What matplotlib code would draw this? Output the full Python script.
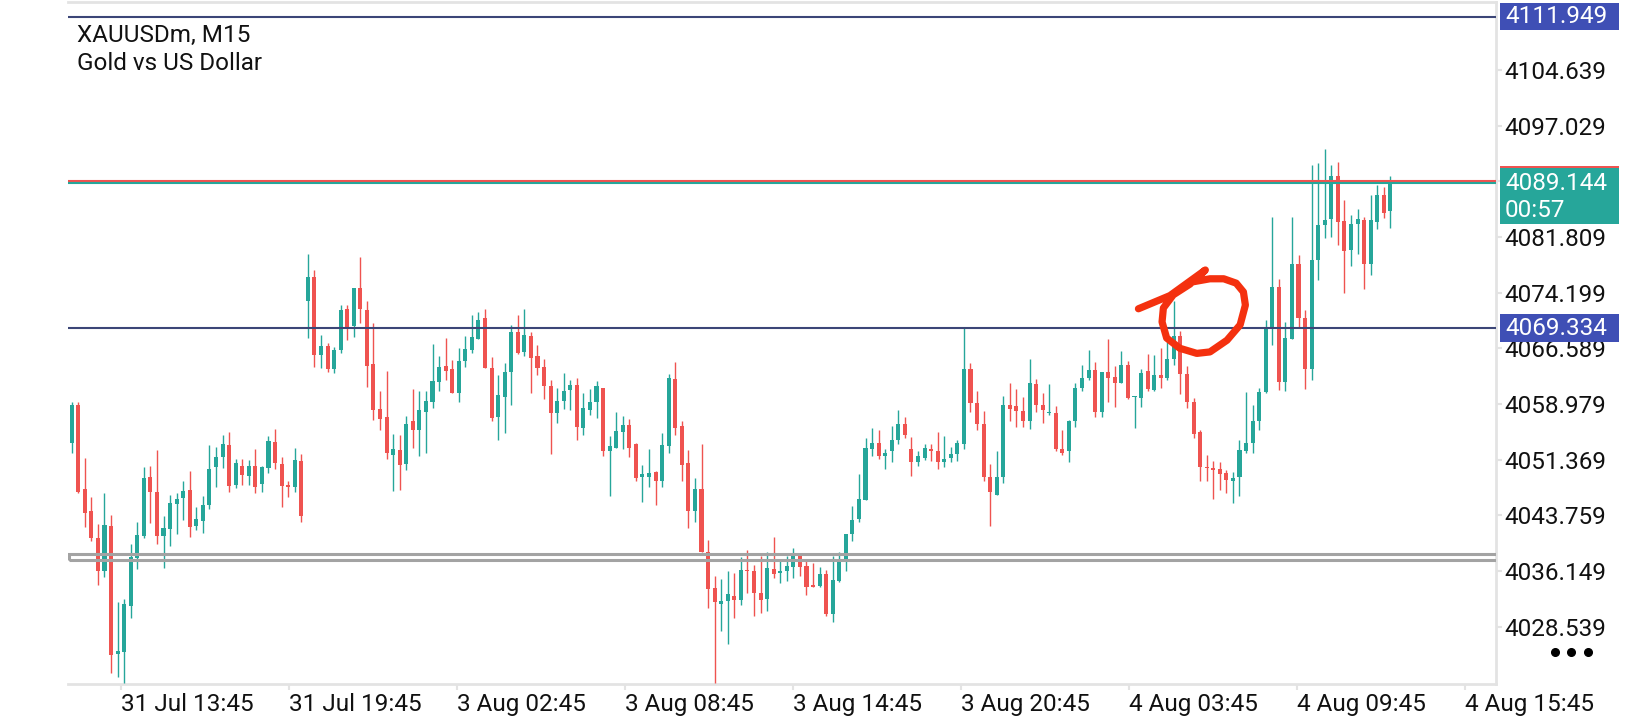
import matplotlib
matplotlib.use("Agg")
import matplotlib.pyplot as plt
from matplotlib.patches import Rectangle
from matplotlib.lines import Line2D
import numpy as np

plt.rcParams['font.family'] = ['Roboto', 'DejaVu Sans']

# chart header
symbol = "XAUUSDm, M15"
description = "Gold vs US Dollar"

# M15 candles (bar 0 = 31 Jul 12:00)
opens = [4053.6, 4058.8, 4047.3, 4044.4, 4040.6, 4036.1, 4042.3, 4024.8, 4025.1, 4031.4,
         4037.9, 4041.0, 4049.0, 4046.9, 4041.0, 4041.9, 4045.3, 4046.1, 4047.2, 4042.3,
         4043.0, 4045.2, 4050.3, 4051.7, 4053.4, 4047.9, 4050.5, 4049.1, 4050.5, 4048.0,
         4050.2, 4053.8, 4050.8, 4047.8, 4047.7, 4051.2, 4073.0, 4076.4, 4065.7, 4066.9,
         4063.8, 4066.3, 4072.0, 4069.6, 4074.8, 4071.8, 4064.5, 4058.3, 4057.2, 4052.0,
         4052.7, 4050.8, 4056.7, 4055.4, 4057.9, 4059.2, 4062.0, 4064.2, 4063.8, 4060.5,
         4064.9, 4066.4, 4067.9, 4070.7, 4063.9, 4057.2, 4060.0, 4063.4, 4068.8, 4066.1,
         4068.3, 4065.5, 4064.1, 4061.4, 4057.8, 4059.4, 4060.9, 4061.6, 4055.7, 4058.2,
         4059.3, 4061.1, 4052.5, 4053.0, 4055.2, 4056.1, 4053.5, 4049.0, 4049.0, 4049.7,
         4048.4, 4053.3, 4062.4, 4056.0, 4050.9, 4044.4, 4047.3, 4038.8, 4033.8, 4031.6,
         4032.1, 4032.7, 4032.2, 4036.3, 4036.2, 4033.2, 4032.3, 4036.4, 4035.9, 4036.2,
         4036.7, 4038.2, 4036.8, 4034.2, 4034.1, 4035.7, 4030.3, 4034.8, 4037.8, 4041.2,
         4043.2, 4045.9, 4052.8, 4053.7, 4051.9, 4052.5, 4054.1, 4056.3, 4052.8, 4051.1,
         4051.6, 4052.8, 4052.6, 4051.1, 4051.6, 4052.1, 4053.5, 4063.8, 4059.1, 4056.3,
         4049.0, 4046.5, 4049.0, 4058.8, 4058.7, 4058.0, 4056.6, 4061.7, 4058.8, 4057.8,
         4057.8, 4052.8, 4052.5, 4056.6, 4061.2, 4062.6, 4063.6, 4057.9, 4063.3, 4062.7,
         4061.8, 4064.3, 4059.9, 4059.8, 4063.5, 4060.9, 4062.9, 4062.5, 4065.2, 4068.3,
         4063.1, 4059.3, 4055.1, 4050.4, 4050.2, 4050.1, 4049.6, 4048.5, 4049.0, 4052.5,
         4053.7, 4056.6, 4060.6, 4069.3, 4075.0, 4062.0, 4067.9, 4078.1, 4070.8, 4063.7,
         4078.6, 4083.5, 4084.3, 4090.2, 4084.0, 4080.0, 4083.6, 4084.1, 4078.1, 4083.9,
         4087.6, 4085.3]
highs = [4059.3, 4059.2, 4051.6, 4046.3, 4042.6, 4046.8, 4043.8, 4031.9, 4032.3, 4039.9,
         4042.8, 4050.3, 4050.5, 4052.7, 4043.6, 4046.6, 4046.8, 4048.4, 4049.8, 4044.9,
         4046.4, 4053.4, 4053.1, 4054.7, 4055.1, 4051.4, 4051.5, 4051.3, 4052.8, 4050.5,
         4054.6, 4055.6, 4051.7, 4048.4, 4052.9, 4052.1, 4079.5, 4077.3, 4068.4, 4067.3,
         4066.8, 4072.5, 4072.5, 4074.8, 4079.1, 4073.1, 4070.0, 4060.8, 4063.5, 4054.9,
         4054.7, 4057.3, 4061.0, 4060.8, 4060.8, 4067.2, 4065.5, 4068.0, 4065.0, 4066.6,
         4068.3, 4071.2, 4071.5, 4072.0, 4065.4, 4062.9, 4064.6, 4069.8, 4071.2, 4072.0,
         4068.8, 4067.0, 4065.2, 4062.3, 4061.1, 4063.2, 4062.3, 4062.5, 4060.5, 4061.0,
         4062.1, 4061.1, 4054.6, 4057.9, 4057.4, 4056.9, 4053.6, 4050.6, 4052.8, 4049.8,
         4055.0, 4063.1, 4064.7, 4056.6, 4052.7, 4048.9, 4053.5, 4040.4, 4035.4, 4035.0,
         4036.2, 4035.9, 4038.0, 4039.0, 4037.0, 4038.2, 4038.7, 4040.8, 4037.6, 4038.2,
         4039.3, 4038.6, 4037.5, 4037.3, 4036.7, 4036.3, 4038.2, 4038.8, 4041.2, 4045.1,
         4049.4, 4054.3, 4055.7, 4055.4, 4052.8, 4056.0, 4058.2, 4057.2, 4054.5, 4052.6,
         4053.5, 4053.5, 4055.1, 4054.6, 4053.1, 4054.1, 4069.4, 4064.6, 4060.8, 4058.0,
         4050.8, 4052.5, 4060.1, 4061.9, 4061.0, 4059.9, 4065.1, 4062.4, 4060.5, 4061.7,
         4058.7, 4055.4, 4056.8, 4061.8, 4064.3, 4066.4, 4064.7, 4063.3, 4067.9, 4064.2,
         4066.2, 4064.9, 4060.1, 4063.8, 4065.8, 4065.7, 4066.7, 4067.4, 4073.0, 4068.9,
         4064.2, 4059.8, 4055.4, 4052.0, 4051.2, 4051.0, 4050.0, 4049.7, 4054.1, 4060.6,
         4058.8, 4061.1, 4070.4, 4084.5, 4076.1, 4070.2, 4084.5, 4079.3, 4071.8, 4091.6,
         4091.9, 4093.8, 4091.7, 4092.0, 4086.9, 4084.8, 4085.7, 4084.5, 4087.6, 4088.9,
         4088.6, 4090.2]
lows = [4052.3, 4046.8, 4042.2, 4040.2, 4034.3, 4035.3, 4022.2, 4021.6, 4020.9, 4029.7,
        4036.4, 4040.6, 4042.7, 4039.9, 4036.5, 4039.5, 4041.2, 4043.1, 4040.8, 4041.8,
        4041.3, 4044.6, 4047.6, 4050.2, 4047.0, 4047.5, 4047.9, 4047.9, 4046.8, 4047.0,
        4049.5, 4050.1, 4044.9, 4046.3, 4047.0, 4042.8, 4068.0, 4064.1, 4063.9, 4063.4,
        4063.2, 4066.0, 4067.7, 4068.2, 4070.0, 4061.3, 4056.8, 4055.4, 4051.5, 4047.1,
        4047.2, 4049.9, 4052.9, 4051.9, 4052.3, 4058.4, 4060.8, 4062.3, 4060.5, 4059.2,
        4064.1, 4066.0, 4067.9, 4063.9, 4056.6, 4054.0, 4055.0, 4058.8, 4065.8, 4065.5,
        4060.5, 4062.9, 4059.6, 4052.1, 4056.4, 4058.3, 4058.2, 4054.1, 4054.7, 4057.5,
        4057.1, 4051.9, 4046.4, 4052.9, 4052.8, 4051.8, 4048.4, 4045.6, 4047.7, 4045.2,
        4047.7, 4052.3, 4054.7, 4048.5, 4042.0, 4042.9, 4038.7, 4031.1, 4020.9, 4027.9,
        4026.2, 4029.7, 4031.5, 4033.2, 4030.0, 4030.4, 4030.7, 4035.2, 4034.5, 4034.8,
        4035.2, 4035.5, 4032.9, 4033.9, 4034.0, 4030.0, 4029.2, 4034.6, 4036.2, 4040.2,
        4042.9, 4045.9, 4051.9, 4051.5, 4050.1, 4051.1, 4053.5, 4054.4, 4049.2, 4050.5,
        4051.3, 4051.2, 4050.1, 4050.4, 4051.0, 4051.2, 4052.8, 4057.9, 4055.4, 4048.4,
        4042.3, 4046.5, 4048.2, 4056.7, 4055.8, 4055.8, 4055.6, 4057.9, 4056.4, 4057.5,
        4052.5, 4052.0, 4051.0, 4055.9, 4060.7, 4062.3, 4057.2, 4057.2, 4059.3, 4058.6,
        4061.8, 4059.6, 4055.7, 4058.6, 4060.8, 4060.8, 4061.1, 4062.3, 4064.3, 4060.4,
        4058.4, 4054.3, 4048.4, 4048.5, 4046.0, 4047.2, 4046.8, 4045.4, 4046.4, 4052.3,
        4052.3, 4055.4, 4060.5, 4067.0, 4060.9, 4060.8, 4067.9, 4069.5, 4061.0, 4062.2,
        4075.9, 4081.7, 4081.8, 4080.7, 4074.2, 4077.9, 4079.5, 4074.7, 4076.6, 4082.9,
        4084.4, 4083.1]
closes = [4058.8, 4046.9, 4044.1, 4040.7, 4036.1, 4042.4, 4024.7, 4025.2, 4031.6, 4038.1,
          4041.1, 4048.9, 4046.9, 4041.0, 4042.0, 4045.4, 4046.0, 4047.1, 4042.2, 4043.2,
          4045.2, 4050.1, 4051.7, 4053.5, 4047.8, 4050.9, 4049.3, 4050.5, 4047.7, 4050.3,
          4053.9, 4050.9, 4047.8, 4047.7, 4051.3, 4043.6, 4076.4, 4065.7, 4066.9, 4063.7,
          4066.4, 4071.8, 4069.5, 4074.8, 4072.0, 4064.2, 4058.2, 4056.9, 4052.3, 4052.8,
          4050.6, 4056.3, 4055.4, 4058.2, 4059.4, 4062.1, 4064.1, 4063.5, 4060.5, 4064.9,
          4066.5, 4068.1, 4070.5, 4063.9, 4057.1, 4060.2, 4063.3, 4068.8, 4066.0, 4068.4,
          4065.3, 4063.9, 4061.5, 4057.7, 4059.4, 4060.8, 4061.6, 4055.9, 4058.4, 4059.3,
          4061.4, 4052.5, 4053.2, 4055.3, 4056.1, 4053.0, 4048.9, 4049.4, 4049.5, 4048.4,
          4053.4, 4062.5, 4055.7, 4050.7, 4044.4, 4047.3, 4038.7, 4033.7, 4031.9, 4032.1,
          4033.0, 4032.2, 4036.3, 4036.1, 4033.2, 4032.2, 4036.5, 4035.7, 4036.2, 4036.8,
          4038.2, 4036.7, 4034.0, 4034.0, 4035.7, 4030.3, 4034.9, 4037.4, 4041.2, 4043.1,
          4046.0, 4053.0, 4053.7, 4051.9, 4052.3, 4054.1, 4056.3, 4054.7, 4051.1, 4051.9,
          4053.0, 4052.5, 4051.1, 4051.4, 4052.1, 4053.6, 4063.8, 4059.1, 4056.3, 4049.0,
          4046.9, 4049.0, 4058.8, 4058.3, 4058.0, 4056.7, 4061.9, 4058.8, 4058.1, 4057.9,
          4052.8, 4052.3, 4056.7, 4061.1, 4062.6, 4063.6, 4057.9, 4063.3, 4062.6, 4061.9,
          4064.3, 4059.8, 4060.0, 4063.2, 4061.0, 4063.0, 4062.6, 4065.2, 4068.3, 4063.1,
          4059.2, 4054.9, 4050.3, 4050.2, 4050.0, 4049.4, 4048.6, 4048.9, 4052.7, 4053.7,
          4056.6, 4060.6, 4069.2, 4075.0, 4062.0, 4068.0, 4078.1, 4070.7, 4063.8, 4078.7,
          4083.5, 4084.1, 4090.1, 4083.9, 4079.9, 4083.6, 4084.3, 4078.1, 4084.1, 4087.6,
          4085.1, 4089.144]

# time axis labels (MT5 puts one every ~25.6 bars here)
time_labels = ["31 Jul 13:45", "31 Jul 19:45", "3 Aug 02:45", "3 Aug 08:45", "3 Aug 14:45",
               "3 Aug 20:45", "4 Aug 03:45", "4 Aug 09:45", "4 Aug 15:45"]
first_label_bar = 7.5
bars_per_label = 25.61

price_ticks = [4028.539, 4036.149, 4043.759, 4051.369, 4058.979, 4066.589,
               4074.199, 4081.809, 4089.419, 4097.029, 4104.639]

# horizontal objects on the chart
level_top = 4111.949
level_mid = 4069.334
zone_low, zone_high = 4037.61, 4038.45
bid = 4089.144
ask = 4089.47
countdown = "00:57"

# hand drawn red circle (bar, price): tail up to the tip, then the loop
scribble_bar = [162.6, 167.4, 172.8, 171.0, 173.5, 175.6, 177.5, 178.6, 178.9, 178.1,
                176.1, 173.5, 171.5, 168.9, 166.9, 166.2, 166.4, 167.9, 170.5]
scribble_price = [4072.0, 4073.8, 4077.3, 4075.7, 4076.1, 4076.1, 4075.5, 4074.3, 4072.5,
                  4069.8, 4067.7, 4066.1, 4065.9, 4066.6, 4068.0, 4070.2, 4072.1, 4073.9,
                  4075.4]

GREEN = '#26a69a'
RED = '#ef5350'
NAVY = '#3c4677'
LABEL_BLUE = '#3f4fb5'
FRAME = '#e3e3e3'
FS = 17.5

fig = plt.figure(figsize=(16.4, 7.2), dpi=100)
ax = fig.add_axes([68 / 1640, 36 / 720, 1428 / 1640, 682 / 720])

o = np.array(opens)
h = np.array(highs)
l = np.array(lows)
c = np.array(closes)
x = np.arange(len(o))
cols = np.where(c >= o, GREEN, RED)

ax.vlines(x, l, h, colors=cols, lw=1.0, zorder=3)
ax.bar(x, np.maximum(np.abs(c - o), 0.15), bottom=np.minimum(o, c), width=0.62,
       color=cols, linewidth=0, zorder=4)

ax.set_xlim(-0.56, 217.1)
ax.set_ylim(4020.70, 4113.94)

# levels
ax.axhline(level_top, color=NAVY, lw=1.5, zorder=5)
ax.axhline(level_mid, color=NAVY, lw=1.5, zorder=5)
ax.add_patch(Rectangle((-0.4, zone_low), 400, zone_high - zone_low, fill=False,
                       edgecolor='#a3a3a3', lw=2.2, zorder=5))
ax.axhline(ask, color=RED, lw=1.5, zorder=5)
ax.axhline(bid, color=GREEN, lw=1.5, zorder=5)

# the red scribble
ax.plot(scribble_bar, scribble_price, color='#f4310f', lw=5.2, solid_capstyle='round',
        solid_joinstyle='round', zorder=6)

# frame
for s in ['top', 'right', 'bottom']:
    ax.spines[s].set_color(FRAME)
    ax.spines[s].set_linewidth(2)
ax.spines['left'].set_visible(False)

ax.set_xticks([first_label_bar + bars_per_label * k for k in range(len(time_labels))])
ax.set_xticklabels(time_labels, ha='left')
ax.yaxis.tick_right()
ax.set_yticks(price_ticks)
ax.set_yticklabels(['%.3f' % p for p in price_ticks])
ax.tick_params(axis='x', length=4, width=1.5, color=FRAME, labelsize=FS, pad=2.5,
               labelcolor='#111111')
ax.tick_params(axis='y', length=4, width=1.5, color=FRAME, labelsize=FS, pad=2,
               labelcolor='#111111')

# price tags on the right scale
tag = ax.get_yaxis_transform()
bx, bw = 1.0028, 0.0833
tx = 1.0063


def price_tag(top, bottom, color):
    ax.add_patch(Rectangle((bx, bottom), bw, top - bottom, transform=tag, color=color,
                           clip_on=False, zorder=10, lw=0))


price_tag(level_top + 1.85, level_top - 1.85, LABEL_BLUE)
ax.text(tx, level_top, '%.3f' % level_top, transform=tag, color='white', fontsize=FS,
        va='center', ha='left', zorder=11, clip_on=False)
price_tag(level_mid + 1.9, level_mid - 1.9, LABEL_BLUE)
ax.text(tx, level_mid, '%.3f' % level_mid, transform=tag, color='white', fontsize=FS,
        va='center', ha='left', zorder=11, clip_on=False)
price_tag(ask + 2.05, ask - 2.0, RED)
price_tag(bid + 2.1, bid - 5.55, GREEN)
ax.text(tx, bid, '%.3f' % bid, transform=tag, color='white', fontsize=FS,
        va='center', ha='left', zorder=11, clip_on=False)
ax.text(tx, bid - 3.65, countdown, transform=tag, color='white', fontsize=FS,
        va='center', ha='left', zorder=11, clip_on=False)

# header text
fig.text(77 / 1640, 1 - 42.3 / 720, symbol, fontsize=17.5, color='#111111', va='baseline')
fig.text(77 / 1640, 1 - 70 / 720, description, fontsize=17.5, color='#111111', va='baseline')

# the "more" dots in the corner
fig.add_artist(Line2D([1555 / 1640, 1571.5 / 1640, 1588 / 1640], [1 - 651.7 / 720] * 3,
                      transform=fig.transFigure, marker='o', ls='none', ms=5.5,
                      color='black'))

fig.savefig('out.png', dpi=100)
